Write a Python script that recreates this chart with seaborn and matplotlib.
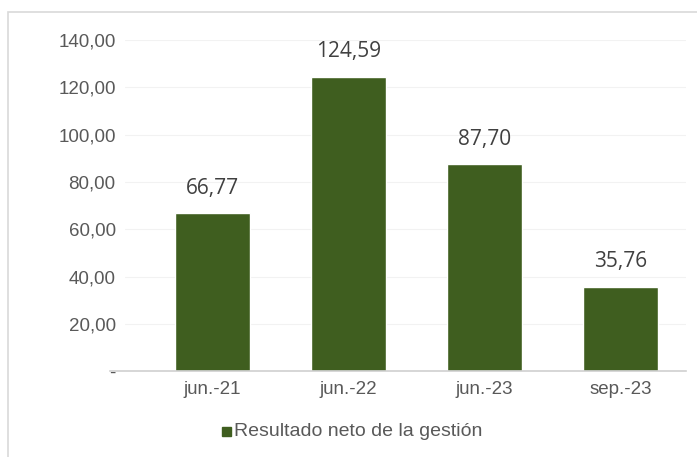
import matplotlib
matplotlib.use("Agg")
import matplotlib.pyplot as plt
import seaborn as sns
import pandas as pd
from matplotlib.patches import Rectangle

categories = ["jun.-21", "jun.-22", "jun.-23", "sep.-23"]
values = [66.77, 124.59, 87.70, 35.76]
series_name = "Resultado neto de la gestión"
yticks = [0, 20, 40, 60, 80, 100, 120, 140]

sns.set_theme(style="white")
plt.rcParams['font.family'] = ['Liberation Sans', 'DejaVu Sans']

df = pd.DataFrame({"cat": categories, "val": values, "serie": series_name})

fig = plt.figure(figsize=(6.97, 4.57), dpi=100)
ax = fig.add_axes([0.158, 0.188, 0.826, 0.724])
bar_color = "#3f5e1f"
sns.barplot(data=df, x="cat", y="val", hue="serie", palette=[bar_color],
            width=0.55, ax=ax, legend=False, saturation=1)

ax.set_ylim(0, 140)
ax.set_xlim(-0.75, 3.48)
ax.set_yticks(yticks)
ax.set_yticklabels(["-" if t == 0 else f"{t:.2f}".replace(".", ",") for t in yticks],
                   color="#595959", fontsize=13.5)
ax.set_xticklabels(categories, color="#595959", fontsize=13.5)
ax.set_xlabel("")
ax.set_ylabel("")
ax.tick_params(axis="y", length=0, pad=-4)
ax.tick_params(axis="x", length=0, pad=7)
for t in yticks[1:]:
    ax.axhline(t, xmin=0.025, color="#f2f2f2", lw=0.8, zorder=0)
for s in ["top", "right", "left"]:
    ax.spines[s].set_visible(False)
ax.spines["bottom"].set_color("#d0d0d0")
ax.spines["bottom"].set_linewidth(1.2)

for i, v in enumerate(values):
    ax.text(i, v + 6, f"{v:.2f}".replace(".", ","), ha="center", va="bottom",
            fontsize=15, color="#404040", family=["Open Sans", "DejaVu Sans"])

# legend
fig.patches.append(Rectangle((222/697, 1-436/457), 9/697, 9/457,
                             transform=fig.transFigure, color=bar_color))
fig.text(234/697, 1-431/457, series_name, ha="left", va="center",
         fontsize=14, color="#595959")

# outer border
fig.patches.append(Rectangle((8/697, -0.1), 1.0, 1 - 12/457 + 0.1,
                             transform=fig.transFigure, fill=False,
                             edgecolor="#d9d9d9", lw=1.2))

fig.savefig("out.png", dpi=100)
